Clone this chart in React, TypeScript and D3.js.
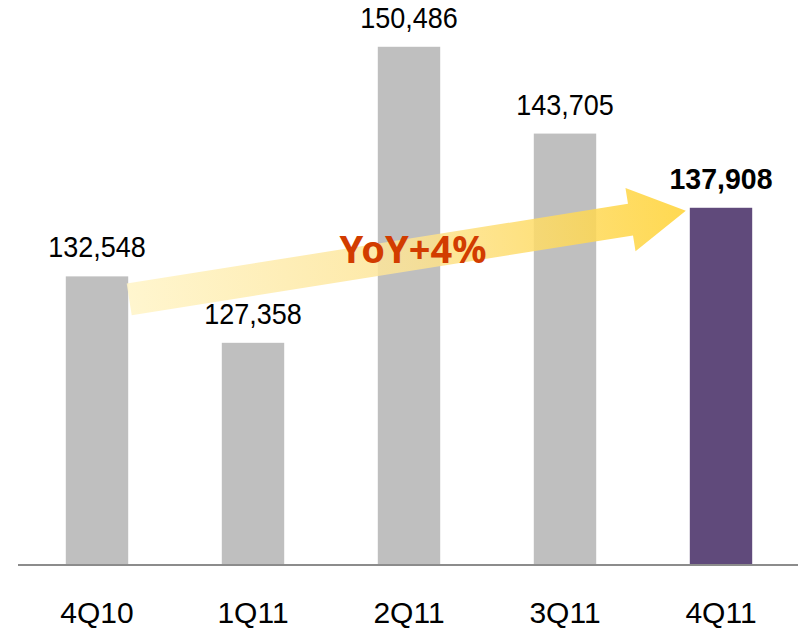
import * as d3 from 'd3';

const categories = ['4Q10', '1Q11', '2Q11', '3Q11', '4Q11'];
const values = [132548, 127358, 150486, 143705, 137908];
const valueLabels = ['132,548', '127,358', '150,486', '143,705', '137,908'];
const growthLabel = 'YoY+4%';

const width = 798;
const height = 630;
const baseline = 565;
const font = "'Liberation Sans', Arial, sans-serif";

export default function App() {
	const x = d3
		.scaleBand<string>()
		.domain(categories)
		.range([19, 799])
		.paddingInner(0.6)
		.paddingOuter(0.3);

	const y = d3.scaleLinear().domain([110000, 150000]).range([baseline, 53]);

	const bw = x.bandwidth();
	const last = categories.length - 1;

	// arrow from first bar to last bar
	const tail: [number, number] = [x(categories[0])! + bw + 1, y(values[0]) + 23];
	const tip: [number, number] = [x(categories[last])! - 4, y(values[last]) + 3];
	const dx = tip[0] - tail[0];
	const dy = tip[1] - tail[1];
	const len = Math.hypot(dx, dy);
	const ang = (Math.atan2(dy, dx) * 180) / Math.PI;
	const shaft = 16;
	const headW = 32;
	const headL = 56;
	const arrowPts: [number, number][] = [
		[0, -shaft],
		[len - headL, -shaft],
		[len - headL, -headW],
		[len, 0],
		[len - headL, headW],
		[len - headL, shaft],
		[0, shaft],
	];

	return (
		<svg width={width} height={height} style={{ display: 'block', position: 'absolute', left: 0, top: 0 }}>
			<defs>
				<linearGradient id='arrowGrad' gradientUnits='userSpaceOnUse' x1={0} y1={0} x2={len} y2={0}>
					<stop offset='0' stopColor='#fff4c6' />
					<stop offset='0.5' stopColor='#fde495' />
					<stop offset='1' stopColor='#ffd232' />
				</linearGradient>
			</defs>

			{/* bars */}
			{categories.map((c, i) => (
				<rect
					key={c}
					x={x(c)}
					y={y(values[i])}
					width={bw}
					height={baseline - y(values[i])}
					fill={i === last ? '#604a7b' : '#bfbfbf'}
				/>
			))}

			{/* baseline */}
			<line x1={18} x2={width} y1={baseline} y2={baseline} stroke='#8c8c8c' strokeWidth={2} />

			{/* value labels */}
			{categories.map((c, i) => (
				<text
					key={c}
					transform={`translate(${x(c)! + bw / 2},${y(values[i]) - 19}) scale(${i === last ? 0.95 : 0.9},1)`}
					textAnchor='middle'
					fontFamily={font}
					fontSize={30}
					fontWeight={i === last ? 'bold' : 'normal'}
					fill='#000'
				>
					{valueLabels[i]}
				</text>
			))}

			{/* category labels */}
			{categories.map((c) => (
				<text
					key={c}
					x={x(c)! + bw / 2}
					y={623}
					textAnchor='middle'
					fontFamily={font}
					fontSize={30}
					fill='#000'
				>
					{c}
				</text>
			))}

			{/* growth arrow */}
			<g transform={`translate(${tail[0]},${tail[1]}) rotate(${ang})`}>
				<polygon points={arrowPts.map((p) => p.join(',')).join(' ')} fill='url(#arrowGrad)' opacity={0.85} />
			</g>

			<text
				x={x(categories[2])! + bw / 2 + 4}
				y={263}
				textAnchor='middle'
				fontFamily="'Noto Sans', sans-serif"
				fontSize={38}
				fontWeight='bold'
				fill='#d23c00'
			>
				{growthLabel}
			</text>
		</svg>
	);
}
